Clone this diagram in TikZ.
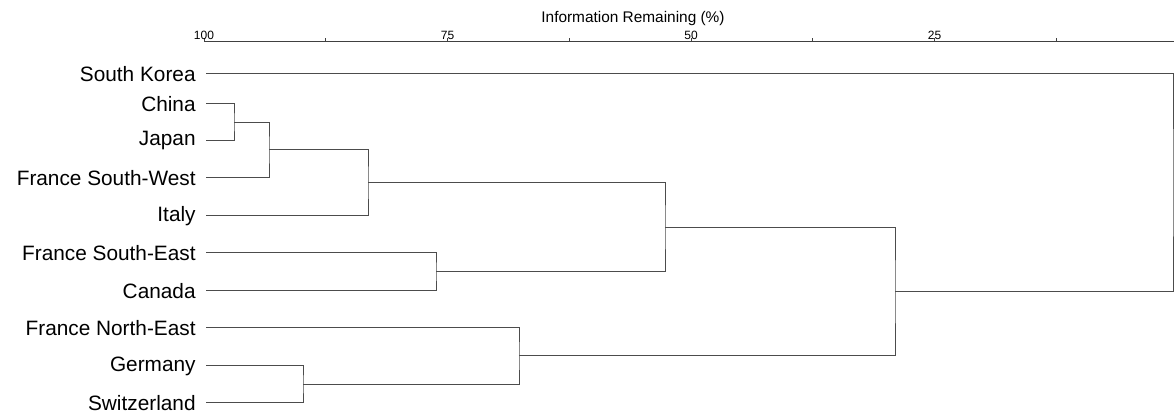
\documentclass[tikz,border=0pt]{standalone}
\usepackage{fontspec}
\setmainfont{Liberation Sans}
\usepackage{tikz}
\usetikzlibrary{calc,positioning}
\tikzset{%
	link/.style    = {draw=black!70, line width=0.5pt}, % Dendrogram branch
	country/.style = {inner sep=0pt, font=\fontsize{10.4}{12}\selectfont}, % Leaf label
	axisline/.style= {draw=black!75, line width=0.5pt}, % Scale
	ticklbl/.style = {inner sep=0pt, font=\fontsize{6}{7}\selectfont}, % Tick label
	axistitle/.style = {inner sep=0pt, font=\fontsize{7.7}{9}\selectfont}, % Scale title
}

\begin{document}
\begin{tikzpicture}[x=0.5pt,y=-0.5pt,node distance=5pt]
		\useasboundingbox (0,0) rectangle (1174,416);
		% scale on top
		\node [axistitle] (ttl) at (633,19) {Information Remaining (\%)};
		\draw[axisline] (204,42) -- (1178,42);
		\foreach \v in {100,87.5,75,62.5,50,37.5,25,12.5,0}{
			\pgfmathsetmacro{\xv}{204+(100-\v)*9.74}
			\draw[axisline] (\xv,42) -- (\xv,38.5);
		}
		\foreach \v in {100,75,50,25,0}{
			\pgfmathsetmacro{\xv}{204+(100-\v)*9.74}
			\node [ticklbl] at (\xv,35) {\v};
		}
		
		% leaves
		\coordinate (korea) at (206,74);
		\coordinate (china) at (206,104);
		\coordinate (japan) at (206,141);
		\coordinate (fsw) at (206,178);
		\coordinate (italy) at (206,216);
		\coordinate (fse) at (206,253);
		\coordinate (canada) at (206,291);
		\coordinate (fne) at (206,328);
		\coordinate (germany) at (206,366);
		\coordinate (swiss) at (206,403);
		\node [country,left=of korea] (lkorea) {South Korea};
		\node [country,left=of china] (lchina) {China};
		\node [country,left=of japan] (ljapan) {Japan};
		\node [country,left=of fsw] (lfsw) {France South-West};
		\node [country,left=of italy] (litaly) {Italy};
		\node [country,left=of fse] (lfse) {France South-East};
		\node [country,left=of canada] (lcanada) {Canada};
		\node [country,left=of fne] (lfne) {France North-East};
		\node [country,left=of germany] (lgermany) {Germany};
		\node [country,left=of swiss] (lswiss) {Switzerland};
		
		% joins
		\coordinate (cj) at (234,122.5);
		\coordinate (cjf) at (269,150);
		\coordinate (cjfi) at (368,183);
		\coordinate (fc) at (436,272);
		\coordinate (west) at (665,227.5);
		\coordinate (gs) at (303,384.5);
		\coordinate (north) at (519,356);
		\coordinate (big) at (895,292);
		\coordinate (root) at (1173,183);
		
		\draw[link] (china) -| (cj) |- (japan);
		\draw[link] (cj) -| (cjf) |- (fsw);
		\draw[link] (cjf) -| (cjfi) |- (italy);
		\draw[link] (fse) -| (fc) |- (canada);
		\draw[link] (cjfi) -| (west) |- (fc);
		\draw[link] (germany) -| (gs) |- (swiss);
		\draw[link] (fne) -| (north) |- (gs);
		\draw[link] (west) -| (big) |- (north);
		\draw[link] (korea) -| (root) |- (big);
		\end{tikzpicture}
\end{document}
